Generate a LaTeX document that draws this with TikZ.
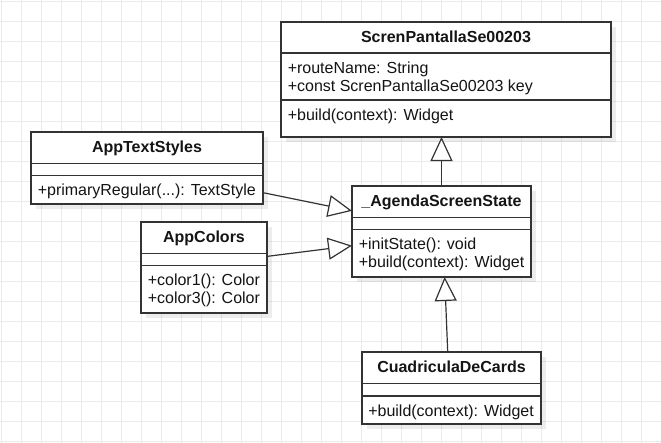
\documentclass[tikz,border=0pt]{standalone}
\usepackage{fontspec}
\setmainfont{Liberation Sans}
\usetikzlibrary{arrows.meta,calc}
\definecolor{gridc}{RGB}{235,235,235}
\definecolor{linec}{RGB}{51,51,51}
\definecolor{textc}{RGB}{20,20,20}
\tikzset{
  classbox/.style={draw=linec, line width=1pt, fill=white, inner sep=0pt, outer sep=0pt,
    preaction={draw=none, fill=black, opacity=0.07, transform canvas={shift={(3.5pt,-3.5pt)}}}},
  divider/.style={draw=linec, line width=1pt},
  ctitle/.style={font=\bfseries\fontsize{12pt}{14pt}\selectfont, text=textc, inner sep=0pt, anchor=base},
  cattr/.style={font=\fontsize{12pt}{14pt}\selectfont, text=textc, inner sep=0pt, anchor=base west},
  inherit/.style={draw=linec, line width=0.9pt, -{Triangle[fill=white, length=18pt, width=16.5pt, line width=0.9pt]}},
}
\begin{document}
\begin{tikzpicture}[x=0.75pt, y=-0.75pt]
\useasboundingbox (0,0) rectangle (661,443);
\fill[white] (0,0) rectangle (661,443);
% grid
\foreach \i in {0,...,33} { \draw[gridc, line width=0.75pt] (1+20*\i,0) -- (1+20*\i,443); }
\foreach \j in {0,...,22} { \draw[gridc, line width=0.75pt] (0,1+20*\j) -- (661,1+20*\j); }

% ScrenPantallaSe00203
\node[classbox, minimum width=247.5pt, minimum height=86.25pt] (scr) at (446,79.5) {};
\draw[divider] (scr.west |- 0,53) -- (scr.east |- 0,53);
\draw[divider] (scr.west |- 0,100) -- (scr.east |- 0,100);
\node[ctitle] (scrT) at (446,42) {ScrenPantallaSe00203};
\node[cattr] (scrA1) at (287.5,73) {+routeName: String};
\node[cattr] (scrA2) at (287.5,91) {+const ScrenPantallaSe00203 key};
\node[cattr] (scrM1) at (287.5,120) {+build(context): Widget};

% AppTextStyles
\node[classbox, minimum width=174pt, minimum height=54pt] (ats) at (147,168) {};
\draw[divider] (ats.west |- 0,163.5) -- (ats.east |- 0,163.5);
\draw[divider] (ats.west |- 0,175.5) -- (ats.east |- 0,175.5);
\node[ctitle] (atsT) at (147,152.5) {AppTextStyles};
\node[cattr] (atsM1) at (37.5,195.5) {+primaryRegular(...): TextStyle};

% AppColors
\node[classbox, minimum width=94.5pt, minimum height=68.25pt] (acol) at (204,267.5) {};
\draw[divider] (acol.west |- 0,253.5) -- (acol.east |- 0,253.5);
\draw[divider] (acol.west |- 0,265.5) -- (acol.east |- 0,265.5);
\node[ctitle] (acolT) at (204,242.5) {AppColors};
\node[cattr] (acolM1) at (147.5,285.5) {+color1(): Color};
\node[cattr] (acolM2) at (147.5,303.5) {+color3(): Color};

% _AgendaScreenState
\node[classbox, minimum width=134.25pt, minimum height=68.25pt] (ags) at (441.5,231.5) {};
\draw[divider] (ags.west |- 0,217.5) -- (ags.east |- 0,217.5);
\draw[divider] (ags.west |- 0,229.5) -- (ags.east |- 0,229.5);
\node[ctitle] (agsT) at (441.5,206.5) {\_AgendaScreenState};
\node[cattr] (agsM1) at (358.5,249) {+initState(): void};
\node[cattr] (agsM2) at (358.5,267) {+build(context): Widget};

% CuadriculaDeCards
\node[classbox, minimum width=134.25pt, minimum height=54pt] (cdc) at (451.5,388) {};
\draw[divider] (cdc.west |- 0,383.5) -- (cdc.east |- 0,383.5);
\draw[divider] (cdc.west |- 0,396) -- (cdc.east |- 0,396);
\node[ctitle] (cdcT) at (451.5,372) {CuadriculaDeCards};
\node[cattr] (cdcM1) at (368,416) {+build(context): Widget};

% connectors
\draw[inherit] (ags.north) -- (ags.north |- scr.south);
\draw[inherit] (ats.-12.5) -- (ags.167.6);
\draw[inherit] (acol.10.2) -- (ags.-171.8);
\draw[inherit] (cdc.96.3) -- (ags.-86);
\end{tikzpicture}
\end{document}
